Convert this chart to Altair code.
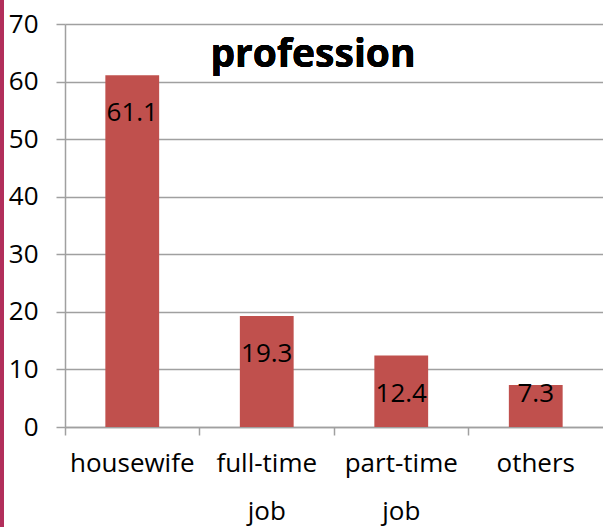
import altair as alt
import pandas as pd

categories = ["housewife", "full-time job", "part-time job", "others"]
values = [61.1, 19.3, 12.4, 7.3]
y_ticks = [0, 10, 20, 30, 40, 50, 60, 70]

df = pd.DataFrame({"category": categories, "value": values})

FONT = "Open Sans"
BAR = "#C0504D"
GRID = "#A0A0A0"
W, H = 538, 403

x_enc = alt.X(
    "category:N",
    sort=categories,
    scale=alt.Scale(paddingInner=0, paddingOuter=0),
    axis=alt.Axis(
        title=None,
        labelAngle=0,
        bandPosition=0,
        tickSize=8,
        tickColor=GRID,
        tickWidth=1.5,
        domainColor=GRID,
        domainWidth=1.5,
        labelFont=FONT,
        labelFontSize=26,
        labelColor="#000000",
        labelPadding=15,
        labelLineHeight=48,
        labelExpr="split(datum.label, ' ')",
    ),
)
y_enc = alt.Y(
    "value:Q",
    scale=alt.Scale(domain=[0, 70], nice=False),
    axis=alt.Axis(
        title=None,
        values=y_ticks,
        tickSize=9,
        tickColor=GRID,
        tickWidth=1.5,
        domainColor=GRID,
        domainWidth=1.5,
        gridColor=GRID,
        gridWidth=1.3,
        labelFont=FONT,
        labelFontSize=26,
        labelColor="#000000",
        labelPadding=18,
    ),
)

base = alt.Chart(df).encode(x=x_enc, y=y_enc)

bars = base.mark_bar(color=BAR, width=alt.RelativeBandSize(0.4))

# value labels just inside the top of each bar
label_style = dict(font=FONT, fontSize=26, color="#000000", baseline="middle", align="center")
labels_tall = base.transform_filter(alt.datum.value > 10).mark_text(dy=38, **label_style).encode(
    text=alt.Text("value:Q", format=".1f")
)
labels_short = base.transform_filter(alt.datum.value <= 10).mark_text(dy=9, **label_style).encode(
    text=alt.Text("value:Q", format=".1f")
)

title = alt.Chart(df).mark_text(
    text="profession", font=FONT, fontSize=39, fontWeight="bold", color="#000000",
    align="center", baseline="alphabetic",
).encode(x=alt.value(248), y=alt.value(43))

# maroon edge stripe along the left side
stripe = alt.Chart(df).mark_rect(color="#B22E5B").encode(
    x=alt.value(-65), x2=alt.value(-61), y=alt.value(-24), y2=alt.value(H + 100)
)

chart = (
    alt.layer(bars, labels_tall, labels_short, title, stripe)
    .properties(
        width=W,
        height=H,
        autosize=alt.AutoSizeParams(type="none"),
        padding={"left": 65, "top": 24, "right": 0, "bottom": 100},
        background="#FFFFFF",
    )
    .configure_view(stroke=None)
)

chart.save("out.html", embed_options={"renderer": "svg", "actions": False})
